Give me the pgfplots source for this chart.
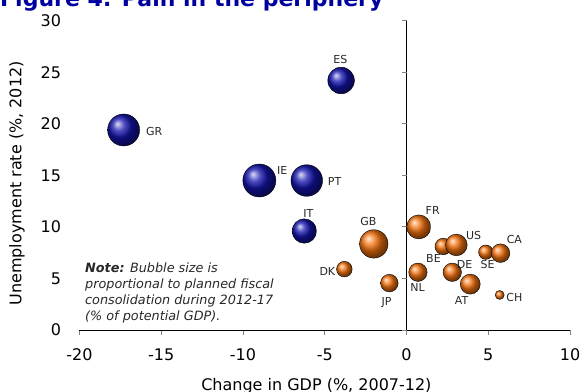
\documentclass[border=0pt]{standalone}
\usepackage{pgfplots}
\pgfplotsset{compat=1.18}
\usepackage{pgfplotstable}
\usepackage{fontspec}
\setmainfont{DejaVu Sans}[ItalicFont={DejaVu Sans Oblique},BoldItalicFont={DejaVu Sans Bold Oblique}]

\definecolor{titleblue}{RGB}{0,0,160}
\definecolor{ballblue}{RGB}{20,20,175}
\definecolor{ballorange}{RGB}{245,115,15}
\definecolor{tickgrey}{RGB}{130,130,130}
\definecolor{labelgrey}{RGB}{40,40,40}

% Euro-area periphery: GDP change 2007-12, unemployment 2012, bubble radius,
% and where each country code is written
\pgfplotstableread{
x     y     r     lx     ly    label
-4.0  24.2  13.3  -4.04  26.2  ES
-17.3 19.4  16.0  -15.43 19.3  GR
-9.0  14.5  16.5  -7.6   15.5  IE
-6.1  14.5  15.8  -4.4   14.4  PT
-6.25 9.6   12.2  -6.0   11.3  IT
}\periphery

% Other advanced economies
\pgfplotstableread{
x     y     r     lx     ly    label
0.75  10.0  12.0  1.6    11.55 FR
-2.0  8.35  14.2  -2.33  10.5  GB
-3.8  5.9   7.8   -4.84  5.63  DK
-1.05 4.55  8.8   -1.22  2.62  JP
0.7   5.6   9.2   0.67   4.08  NL
2.25  8.1   8.3   1.65   6.9   BE
3.05  8.25  10.8  4.1    9.13  US
2.8   5.6   9.2   3.55   6.4   DE
3.9   4.45  10.0  3.37   2.9   AT
4.85  7.55  7.2   4.96   6.4   SE
5.75  7.45  9.3   6.6    8.74  CA
5.7   3.4   4.5   6.6    3.2   CH
}\core

\pgfplotsset{
  bubbles/.style={
    scatter, only marks, mark=ball,
    scatter/use mapped color={ball color=#1},
    visualization depends on={\thisrow{r}\as\rad},
    scatter/@pre marker code/.append style={/tikz/mark size=\rad bp},
  },
  codes/.style={
    only marks, mark=none,
    point meta=explicit symbolic,
    nodes near coords,
    every node near coord/.append style={anchor=center, inner sep=0pt,
      font=\fontsize{11bp}{13bp}\selectfont, text=labelgrey},
  },
}

\begin{document}
\begin{tikzpicture}
\useasboundingbox (-79.5bp,-62bp) rectangle (504.5bp,330bp);
\begin{axis}[
  at={(0,0)}, anchor=south west,
  scale only axis, width=490.5bp, height=309.3bp,
  xmin=-20, xmax=10, ymin=0, ymax=30,
  xtick={-20,-15,...,10}, ytick={0,5,...,30},
  axis x line*=bottom, axis y line*=left,
  x axis line style={black, line width=0.9bp, -},
  y axis line style={draw=none},
  xtick style={tickgrey, line width=0.8bp},
  ytick style={draw=none},
  tick align=outside, major tick length=5bp,
  ticklabel style={font=\fontsize{16bp}{18bp}\selectfont},
  xticklabel style={yshift=-10bp},
  yticklabel style={xshift=-10bp},
  /pgf/number format/assume math mode=true,
  every axis x label/.style={at={([yshift=-56bp]rel axis cs:0.483,0)}, anchor=center},
  every axis y label/.style={at={([xshift=-62.5bp]rel axis cs:0,0.474)}, rotate=90, anchor=center},
  label style={font=\fontsize{16bp}{18bp}\selectfont},
  xlabel={Change in GDP (\%, 2007-12)},
  ylabel={Unemployment rate (\%, 2012)},
  clip=false,
]
% vertical axis through zero growth, ticks on its left
\draw[black, line width=0.9bp] (axis cs:0,0) -- (axis cs:0,30);
\pgfplotsinvokeforeach{0,5,...,30}{
  \draw[tickgrey, line width=0.8bp] (axis cs:0,#1) -- ([xshift=-5bp]axis cs:0,#1);
}

\addplot[bubbles=ballblue] table[x=x, y=y] {\periphery};
\addplot[bubbles=ballorange] table[x=x, y=y] {\core};
\addplot[codes] table[x=lx, y=ly, meta=label] {\periphery};
\addplot[codes] table[x=lx, y=ly, meta=label] {\core};

\node[anchor=north west, inner sep=0pt, align=left,
      font=\fontsize{12.8bp}{16bp}\selectfont\itshape, text=labelgrey]
  at ([xshift=5.5bp, yshift=67bp]rel axis cs:0,0)
  {\textbf{Note:} Bubble size is\\
   proportional to planned fiscal\\
   consolidation during 2012-17\\
   (\% of potential GDP).};
\end{axis}

\node[anchor=base west, inner sep=0pt, text=titleblue,
      font=\fontsize{22bp}{26bp}\selectfont\bfseries]
  at (-79.5bp,323bp) {Figure 4: Pain in the periphery};
\end{tikzpicture}
\end{document}
